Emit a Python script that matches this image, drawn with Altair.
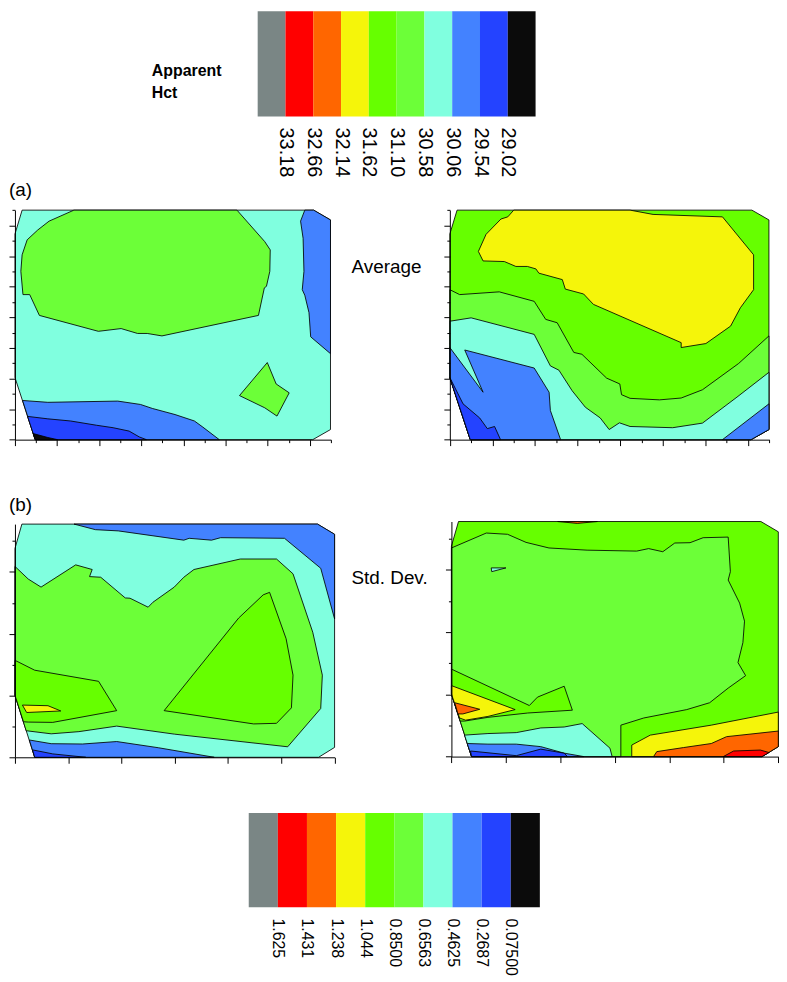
import altair as alt
import pandas as pd

# ---------------- data ----------------
LEVEL_COLORS = ["#7a8685", "#ff0000", "#ff6600", "#f5f50a", "#66ff00",
                "#6cff38", "#80ffdf", "#4382ff", "#2443ff", "#0b0b0b"]
HCT_LABELS = ["33.18", "32.66", "32.14", "31.62", "31.10", "30.58", "30.06", "29.54", "29.02"]
SD_LABELS = ["1.625", "1.431", "1.238", "1.044", "0.8500", "0.6563", "0.4625", "0.2687", "0.07500"]

# measured domain outline (grid units)
DOMAIN_A_X = [0.17, 7.09, 7.49, 7.49, 7.07, 0.48, 0.00, 0.00]
DOMAIN_A_Y = [7.50, 7.50, 7.18, 0.33, 0.00, 0.00, 2.03, 6.72]
DOMAIN_B_X = [0.13, 5.68, 6.00, 6.00, 5.70, 0.37, 0.00, 0.00]
DOMAIN_B_Y = [7.55, 7.55, 7.22, 0.32, 0.00, 0.00, 2.01, 6.76]

# filled contour regions: (colour level, x vertices, y vertices), painted in order
AVG_LEFT = [
    (6, DOMAIN_A_X, DOMAIN_A_Y),
    (5, [1.40, 5.27, 5.93, 6.06, 6.05, 5.97, 5.92, 5.78, 3.49, 3.14, 2.91, 2.52, 1.98, 0.58, 0.35, 0.19, 0.14, 0.17, 0.29, 0.54, 0.81],
        [7.50, 7.50, 6.47, 6.20, 5.50, 5.01, 4.96, 4.06, 3.39, 3.47, 3.47, 3.63, 3.54, 4.06, 4.74, 4.74, 5.50, 6.04, 6.53, 6.85, 7.14]),
    (5, [5.99, 6.20, 6.51, 6.22, 5.93, 5.33], [2.52, 1.82, 1.53, 0.77, 1.04, 1.44]),
    (7, [6.88, 7.09, 7.49, 7.49, 7.02, 6.98, 6.88, 6.82, 6.86, 6.84, 6.78],
        [7.50, 7.50, 7.18, 2.81, 3.36, 4.15, 4.72, 4.90, 5.50, 6.58, 7.14]),
    (7, [0.18, 0.78, 2.44, 2.98, 3.26, 3.80, 4.26, 4.46, 4.85, 0.48],
        [1.28, 1.22, 1.26, 1.15, 1.02, 0.82, 0.61, 0.41, 0.00, 0.00]),
    (8, [0.30, 0.78, 1.32, 1.94, 2.33, 2.71, 2.95, 3.12, 0.48],
        [0.76, 0.68, 0.61, 0.47, 0.39, 0.28, 0.09, 0.00, 0.00]),
    (9, [0.43, 0.78, 1.01, 0.48], [0.20, 0.07, 0.00, 0.00]),
]

AVG_RIGHT = [
    (4, DOMAIN_A_X, DOMAIN_A_Y),
    (5, [0.00, 0.23, 1.16, 1.98, 2.25, 2.52, 2.91, 3.10, 3.68, 3.99, 4.03, 4.23, 4.92, 5.43, 5.93, 6.78, 7.49, 7.49, 7.07, 0.48, 0.00],
        [4.90, 4.74, 4.83, 4.52, 3.93, 3.82, 2.85, 2.79, 2.01, 1.82, 1.47, 1.35, 1.30, 1.36, 1.63, 2.49, 3.39, 0.33, 0.00, 0.00, 2.03]),
    (6, [0.00, 0.50, 1.98, 2.36, 2.56, 2.87, 3.18, 3.53, 3.74, 3.98, 4.23, 5.23, 5.93, 6.74, 7.49, 7.49, 7.07, 0.48, 0.00],
        [3.87, 3.98, 3.44, 2.41, 2.27, 1.60, 1.06, 0.71, 0.33, 0.55, 0.43, 0.39, 0.54, 1.39, 2.20, 0.33, 0.00, 0.00, 2.03]),
    (7, [0.00, 0.78, 0.35, 1.98, 2.33, 2.36, 2.60, 0.48, 0.00],
        [3.01, 1.55, 2.93, 2.34, 1.55, 0.95, 0.00, 0.00, 2.03]),
    (7, [6.40, 7.49, 7.49, 7.07], [0.00, 1.17, 0.33, 0.00]),
    (8, [0.00, 0.31, 0.70, 0.88, 1.05, 1.19, 0.48], [2.03, 1.17, 0.71, 0.36, 0.43, 0.00, 0.00]),
    (3, [1.50, 4.23, 4.77, 6.40, 7.13, 7.13, 6.82, 6.59, 6.01, 5.43, 5.43, 3.37, 3.14, 2.71, 2.64, 2.09, 2.02, 1.82, 1.55, 1.28, 0.78, 0.67, 0.85, 1.20, 1.36],
        [7.50, 7.50, 7.36, 7.28, 6.04, 4.90, 4.31, 3.71, 3.14, 3.01, 3.17, 4.42, 4.76, 4.92, 5.23, 5.44, 5.58, 5.66, 5.66, 5.82, 5.84, 6.15, 6.71, 7.21, 7.28]),
]

SD_LEFT = [
    (6, DOMAIN_B_X, DOMAIN_B_Y),
    (7, [1.11, 1.51, 1.94, 3.17, 3.27, 3.69, 3.86, 5.06, 5.74, 6.00, 6.00, 5.68],
        [7.55, 7.37, 7.33, 7.03, 7.09, 7.03, 7.11, 7.09, 6.12, 4.48, 7.22, 7.55]),
    (5, [0.00, 0.25, 0.49, 1.14, 1.45, 1.40, 1.61, 2.07, 2.16, 2.50, 2.59, 2.99, 3.17, 3.36, 4.23, 4.91, 5.22, 5.59, 5.77, 5.74, 5.12, 2.99, 1.91, 1.20, 0.68, 0.21, 0.00],
        [6.18, 5.77, 5.51, 6.23, 6.08, 5.85, 5.83, 5.16, 5.15, 4.86, 5.02, 5.51, 5.83, 6.08, 6.42, 6.42, 5.94, 4.05, 2.66, 1.58, 0.34, 0.75, 1.01, 0.83, 0.76, 0.86, 2.01]),
    (4, [0.00, 0.37, 1.57, 1.91, 0.71, 0.25, 0.16, 0.00], [3.14, 2.82, 2.46, 1.51, 1.13, 1.14, 1.15, 2.01]),
    (4, [2.80, 4.20, 4.66, 4.78, 5.09, 5.22, 5.19, 4.91, 4.48], [1.51, 4.51, 5.26, 5.34, 3.84, 2.66, 1.60, 1.10, 1.08]),
    (3, [0.14, 0.62, 0.86, 0.22], [1.69, 1.67, 1.50, 1.45]),
    (7, [0.27, 0.68, 1.27, 1.91, 2.69, 3.74, 0.37], [0.56, 0.44, 0.43, 0.51, 0.31, 0.00, 0.00]),
    (8, [0.33, 0.71, 1.33, 0.37], [0.24, 0.11, 0.00, 0.00]),
]

SD_RIGHT = [
    (4, DOMAIN_B_X, DOMAIN_B_Y),
    (5, [0.00, 0.64, 1.03, 1.37, 1.79, 2.49, 3.40, 3.62, 3.88, 4.10, 4.38, 4.62, 5.08, 5.12, 5.08, 5.29, 5.38, 5.35, 5.26, 5.40, 5.08, 4.74, 4.32, 3.53, 3.11, 3.11, 0.37, 0.00],
        [6.70, 7.18, 7.14, 6.88, 6.70, 6.63, 6.60, 6.68, 6.58, 6.86, 6.87, 7.03, 7.05, 5.94, 5.67, 4.93, 4.35, 3.66, 3.02, 2.60, 2.20, 1.73, 1.51, 1.24, 1.01, 0.00, 0.00, 2.01]),
    (6, [0.73, 1.00, 0.74], [6.06, 6.06, 5.94]),
    (2, [1.95, 2.31, 2.68], [7.55, 7.49, 7.55]),
    (4, [0.00, 1.43, 1.58, 2.07, 2.22, 1.40, 0.67, 0.24, 0.16, 0.00], [2.81, 1.64, 1.91, 2.26, 1.49, 1.40, 1.26, 1.14, 1.14, 2.01]),
    (3, [0.00, 1.17, 0.67, 0.26, 0.15, 0.00], [2.28, 1.51, 1.29, 1.17, 1.24, 2.01]),
    (2, [0.06, 0.52, 0.21, 0.12], [1.73, 1.52, 1.37, 1.37]),
    (6, [0.24, 0.67, 1.19, 1.64, 2.07, 2.40, 2.91, 2.95, 0.37], [0.69, 0.74, 0.77, 0.92, 0.95, 1.06, 0.27, 0.00, 0.00]),
    (7, [0.29, 0.67, 1.19, 1.64, 2.07, 2.43, 0.37], [0.42, 0.40, 0.40, 0.32, 0.11, 0.00, 0.00]),
    (8, [0.35, 1.19, 1.64, 2.07, 2.13, 0.37], [0.18, 0.03, 0.24, 0.11, 0.00, 0.00]),
    (3, [3.31, 3.31, 3.65, 4.77, 6.00, 6.00, 5.70], [0.00, 0.37, 0.69, 1.01, 1.43, 0.32, 0.00]),
    (2, [3.71, 3.77, 4.26, 4.77, 5.05, 6.00, 6.00, 5.70], [0.00, 0.16, 0.29, 0.42, 0.64, 0.82, 0.32, 0.00]),
    (1, [4.99, 5.18, 5.67, 5.83, 5.70], [0.00, 0.18, 0.21, 0.13, 0.00]),
]

# ---------------- layout (pixels inside the plot area) ----------------
W, H = 775, 960
FONT = "Liberation Sans"
FILL_SCALE = alt.Scale(domain=list(range(10)), range=LEVEL_COLORS)


def polygon_table(regions):
    rows = []
    for k, (level, xs, ys) in enumerate(regions):
        pts = list(zip(xs, ys))
        pts.append(pts[0])
        for j, (x, y) in enumerate(pts):
            rows.append({"poly": f"p{k:02d}", "k": j, "x": x, "y": y, "level": level})
    return pd.DataFrame(rows)


def panel(regions, xdom, ydom, xr, yr, xticks, yticks, xmajor, ymajor):
    df = polygon_table(regions)
    xaxis = alt.Axis(orient="bottom", offset=yr[0] - H, values=xticks, labels=False,
                     grid=False, title=None, domainColor="black", tickColor="black",
                     tickWidth=1, domainWidth=1, zindex=1,
                     tickSize={"expr": f"datum.value % {xmajor} === 0 ? 6 : 3"})
    yaxis = alt.Axis(orient="left", offset=-xr[0], values=yticks, labels=False,
                     grid=False, title=None, domainColor="black", tickColor="black",
                     tickWidth=1, domainWidth=1, zindex=1,
                     tickSize={"expr": f"datum.value % {ymajor} === 0 ? 6 : 3"})
    return alt.Chart(df).mark_line(stroke="black", strokeWidth=0.85, strokeJoin="round").encode(
        x=alt.X("x:Q", scale=alt.Scale(domain=xdom, range=xr, nice=False, zero=False), axis=xaxis),
        y=alt.Y("y:Q", scale=alt.Scale(domain=ydom, range=yr, nice=False, zero=False), axis=yaxis),
        fill=alt.Fill("level:N", scale=FILL_SCALE, legend=None),
        detail="poly:N",
        order="k:Q",
    )


def colorbar(labels, xr, yr, font_size):
    df = pd.DataFrame({"start": list(range(10)), "end": list(range(1, 11)),
                       "level": list(range(10)), "lo": [0] * 10, "hi": [1] * 10})
    arr = "[" + ",".join(f"'{s}'" for s in labels) + "]"
    xaxis = alt.Axis(orient="bottom", offset=yr[0] - H, values=list(range(1, 10)),
                     labelExpr=f"{arr}[datum.value - 1]", labelAngle=90,
                     labelFontSize=font_size, labelFont=FONT, labelColor="black",
                     labelPadding=10.7, ticks=False, tickSize=0, domain=False, grid=False,
                     title=None, labelOverlap=False, labelBound=False, labelFlush=False)
    return alt.Chart(df).mark_rect(strokeWidth=0).encode(
        x=alt.X("start:Q", scale=alt.Scale(domain=[0, 10], range=xr, nice=False, zero=False), axis=xaxis),
        x2="end:Q",
        y=alt.Y("lo:Q", scale=alt.Scale(domain=[0, 1], range=yr, nice=False, zero=False), axis=None),
        y2="hi:Q",
        fill=alt.Fill("level:N", scale=FILL_SCALE, legend=None),
    )


def note(text, x, y, size, weight="normal"):
    return alt.Chart(pd.DataFrame({"t": [text]})).mark_text(
        align="left", baseline="alphabetic", fontSize=size, fontWeight=weight,
        font=FONT, color="black", lineBreak="\n", lineHeight=22,
    ).encode(text="t:N", x=alt.value(x), y=alt.value(y))


A_TICKS = [i * 0.5 for i in range(16)]
B_XTICKS = list(range(7))
B_YTICKS = list(range(8))

layers = [
    colorbar(HCT_LABELS, [250.3, 530.0], [106, 0], 20),
    colorbar(SD_LABELS, [241.3, 534.3], [902, 807], 16),
    panel(AVG_LEFT, [0, 7.5], [0, 7.5], [6, 324], [431.3, 200.3], A_TICKS, A_TICKS, 1, 1),
    panel(AVG_RIGHT, [0, 7.5], [0, 7.5], [443.7, 765.3], [431.3, 200.3], A_TICKS, A_TICKS, 1, 1),
    panel(SD_LEFT, [0, 6], [0, 7.55], [6, 327.7], [751.0, 516.3], B_XTICKS, B_YTICKS, 1, 2),
    panel(SD_RIGHT, [0, 6], [0, 7.55], [445.3, 774.3], [750.3, 513.7], B_XTICKS, B_YTICKS, 1, 2),
    note("Apparent\nHct", 143.7, 65.3, 16, "bold"),
    note("(a)", 0, 186.3, 19),
    note("(b)", 0, 503, 19),
    note("Average", 344.7, 264, 19),
    note("Std. Dev.", 344.7, 577, 19),
]

chart = alt.layer(*layers).resolve_scale(x="independent", y="independent").properties(
    width=W, height=H, padding=0
).configure_view(stroke=None)

chart.save("out.html", embed_options={"renderer": "svg", "actions": False})
